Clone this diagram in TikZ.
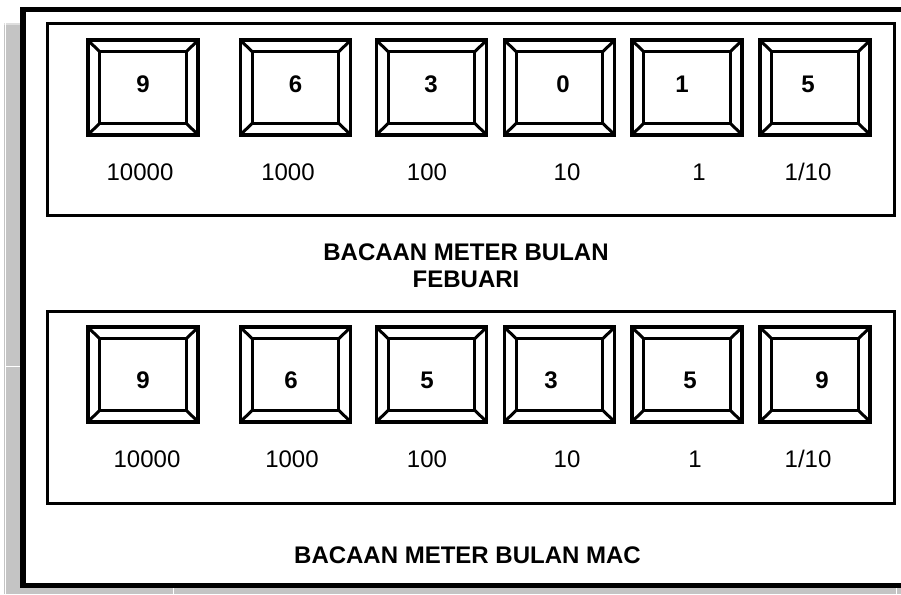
\documentclass[tikz,border=0pt]{standalone}
\usepackage{fontspec}
\setmainfont{Liberation Sans}
\definecolor{stripgray}{RGB}{196,196,196}
\definecolor{stripedge}{RGB}{222,222,222}
\tikzset{
  meterout/.style={draw, line width=3.6pt, rectangle, inner sep=0pt, outer sep=0pt, minimum width=110pt, minimum height=94.5pt},
  meterin/.style={draw, line width=3.2pt, rectangle, inner sep=0pt, outer sep=0pt, minimum width=86.6pt, minimum height=71.6pt},
  bevel/.style={line width=3pt},
  digitlbl/.style={font=\fontsize{24}{27}\selectfont\bfseries, inner sep=0pt, anchor=base},
  placelbl/.style={font=\fontsize{24}{27}\selectfont, inner sep=0pt, anchor=base},
  titlelbl/.style={font=\fontsize{24}{27}\selectfont\bfseries, inner sep=0pt, align=center},
  panel/.style={draw, line width=3pt},
  frame/.style={line width=5.5pt},
}
\newcommand{\meterbox}[6]{%
  \node[meterout] (#1o) at (#2,#3) {};
  \node[meterin] (#1i) at (#2,#3) {};
  \draw[bevel] (#1o.north west) -- (#1i.north west);
  \draw[bevel] (#1o.north east) -- (#1i.north east);
  \draw[bevel] (#1o.south west) -- (#1i.south west);
  \draw[bevel] (#1o.south east) -- (#1i.south east);
  \node[digitlbl] (#1d) at (#5,#6) {#4};
}
\begin{document}
\begin{tikzpicture}[x=1pt,y=-1pt]
\useasboundingbox (0,0) rectangle (901,594);
\fill[white] (0,0) rectangle (901,594);
% grey shadow strip
\fill[stripgray] (4,23) rectangle (20,594);
\fill[stripgray] (4,588) rectangle (901,594);
\fill[stripedge] (4,23) rectangle (20,25);
\draw[white, line width=0.8pt] (5.5,23) -- (5.5,594);
\draw[white, line width=0.8pt] (5,366) -- (20,366);
\draw[white, line width=0.8pt] (173,588) -- (173,594);
\draw[white, line width=0.8pt] (896,588) -- (896,594);
% thick outer frame
\draw[frame] (901,9.5) -- (23,9.5) -- (23,585.5) -- (901,585.5);
% panels
\draw[panel] (47.5,23.5) rectangle (894.5,215);
\draw[panel] (47.5,311.5) rectangle (894.5,503);
% top row meters
\meterbox{ta}{143}{87.5}{9}{143}{92.5}
\meterbox{tb}{295.5}{87.5}{6}{295.5}{92.5}
\meterbox{tc}{431.5}{87.5}{3}{431}{92.5}
\meterbox{td}{559.5}{87.5}{0}{563}{92.5}
\meterbox{te}{687}{87.5}{1}{682}{92.5}
\meterbox{tf}{815}{87.5}{5}{808}{92.5}
\node[placelbl] (tla) at (140,180.5) {10000};
\node[placelbl] (tlb) at (288,180.5) {1000};
\node[placelbl] (tlc) at (427,180.5) {100};
\node[placelbl] (tld) at (567,180.5) {10};
\node[placelbl] (tle) at (699,180.5) {1};
\node[placelbl] (tlf) at (808,180.5) {1/10};
\node[titlelbl] (title1) at (466,265.5) {BACAAN METER BULAN\\FEBUARI};
% bottom row meters
\meterbox{ba}{143}{374.5}{9}{143}{388}
\meterbox{bb}{295.5}{374.5}{6}{291}{388}
\meterbox{bc}{431.5}{374.5}{5}{427}{388}
\meterbox{bd}{559.5}{374.5}{3}{551}{388}
\meterbox{be}{687}{374.5}{5}{690}{388}
\meterbox{bf}{815}{374.5}{9}{822}{388}
\node[placelbl] (bla) at (147,467) {10000};
\node[placelbl] (blb) at (292,467) {1000};
\node[placelbl] (blc) at (427,467) {100};
\node[placelbl] (bld) at (567,467) {10};
\node[placelbl] (ble) at (695,467) {1};
\node[placelbl] (blf) at (808,467) {1/10};
\node[titlelbl, anchor=base] (title2) at (467.5,563) {BACAAN METER BULAN MAC};
\end{tikzpicture}
\end{document}
